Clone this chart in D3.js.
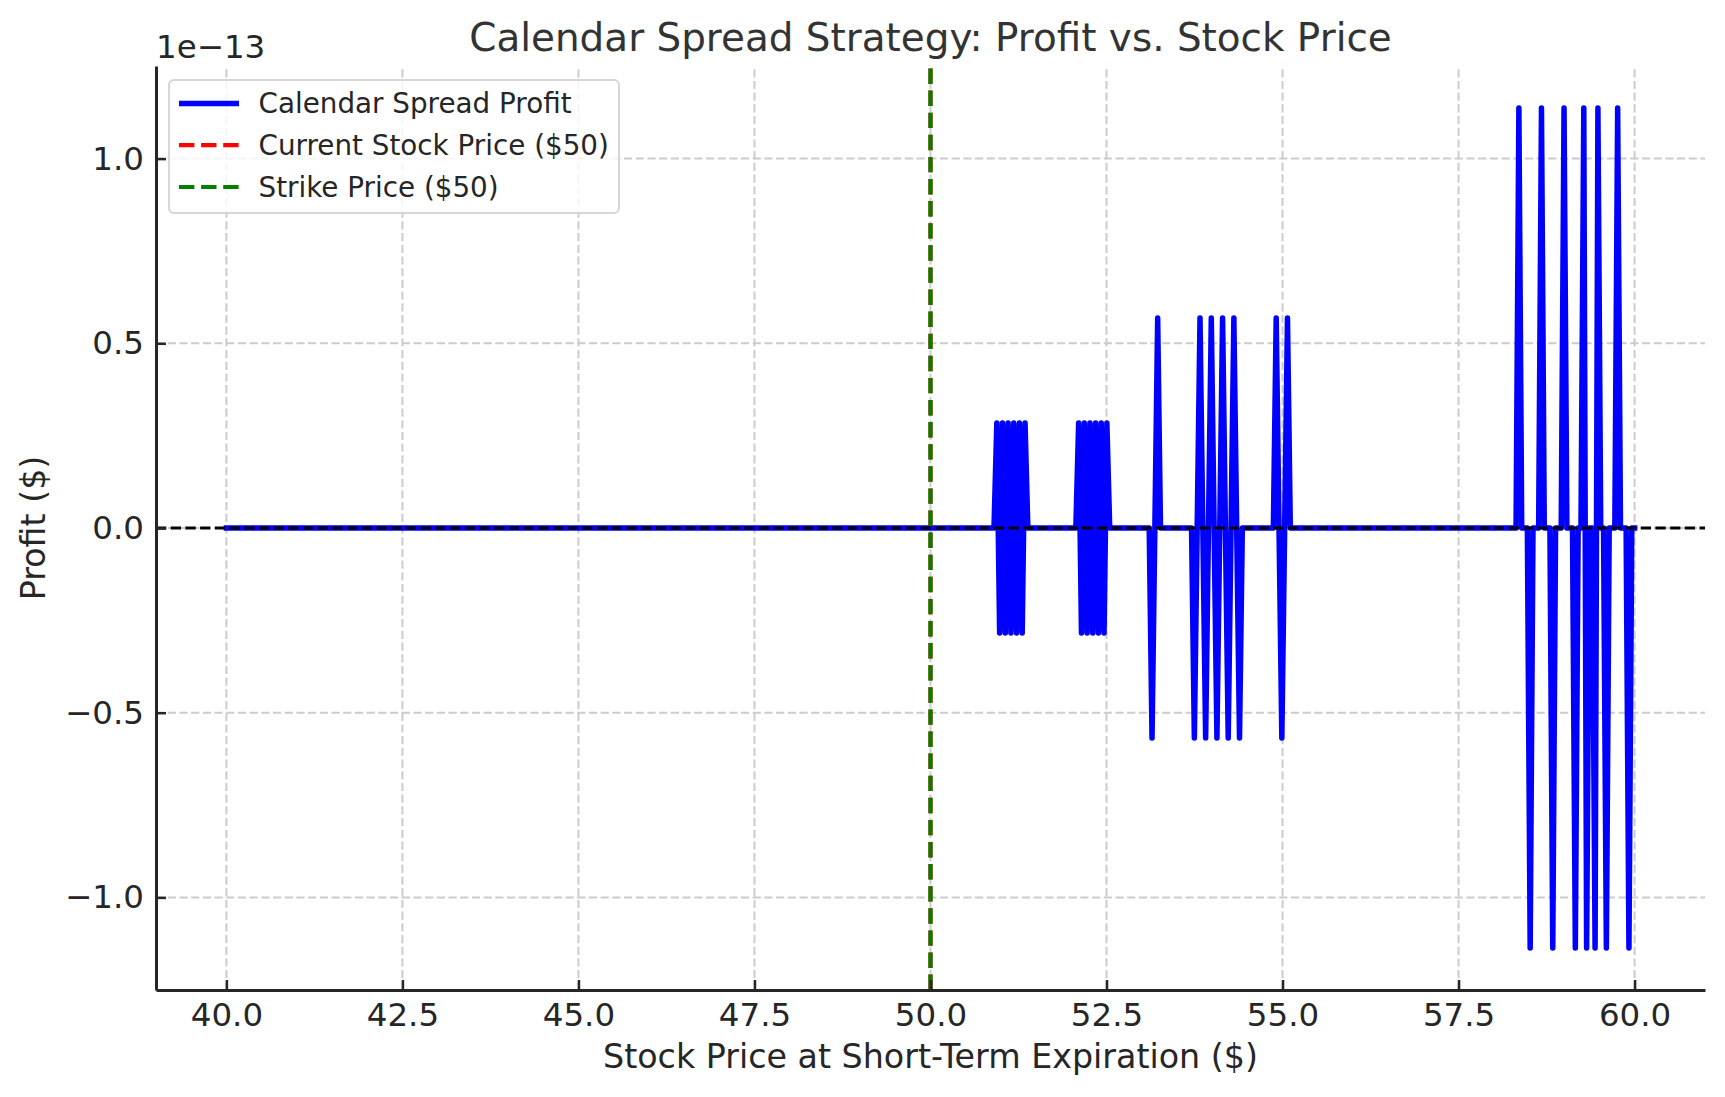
<!DOCTYPE html>
<html>
<head>
<meta charset="utf-8">
<script src="https://cdn.jsdelivr.net/npm/d3@7"></script>
<style>
    html, body { margin: 0; padding: 0; background: #fff; }
    svg { display: block; font-family: "DejaVu Sans", sans-serif; }
</style>
</head>
<body>
<div id="chart"></div>
<script>
// -----------------------------
// data
// -----------------------------

// vertices of the profit curve (flat zero between them), profit in $
const profitX = [
    40.0,
    50.9018, 50.9419, 50.9820, 51.0220, 51.0621, 51.1022, 51.1423, 51.1824, 51.2224, 51.2625, 51.3026, 51.3427, 51.3828,
    52.0641, 52.1042, 52.1443, 52.1844, 52.2244, 52.2645, 52.3046, 52.3447, 52.3848, 52.4248, 52.4649, 52.5050, 52.5451,
    53.1062, 53.1463, 53.1864, 53.2265, 53.2665,
    53.7074, 53.7475, 53.7876, 53.8277, 53.8677, 53.9078, 53.9479, 53.9880, 54.0281, 54.0681,
    54.1082, 54.1483, 54.1884, 54.2285, 54.2685, 54.3086, 54.3487, 54.3888, 54.4289,
    54.8697, 54.9098, 54.9499, 54.9900, 55.0301, 55.0701, 55.1102,
    58.3166, 58.3567, 58.3968, 58.4770, 58.5170, 58.5571, 58.6373, 58.6774, 58.7174,
    58.7976, 58.8377, 58.8778, 58.9579, 58.9980, 59.0381, 59.1182, 59.1583, 59.1984,
    59.2385, 59.2786, 59.3186, 59.3587, 59.3988, 59.4389, 59.4790, 59.5190,
    59.5591, 59.5992, 59.6393, 59.7194, 59.7595, 59.7996, 59.8798, 59.9198, 59.9599,
    60.0
]
const profitY = [
    0,
    0, 2.842e-14, -2.842e-14, 2.842e-14, -2.842e-14, 2.842e-14, -2.842e-14, 2.842e-14, -2.842e-14, 2.842e-14, -2.842e-14, 2.842e-14, 0,
    0, 2.842e-14, -2.842e-14, 2.842e-14, -2.842e-14, 2.842e-14, -2.842e-14, 2.842e-14, -2.842e-14, 2.842e-14, -2.842e-14, 2.842e-14, 0,
    0, -5.684e-14, 0, 5.684e-14, 0,
    0, -5.684e-14, 0, 5.684e-14, 0, -5.684e-14, 0, 5.684e-14, 0, -5.684e-14,
    0, 5.684e-14, 0, -5.684e-14, 0, 5.684e-14, 0, -5.684e-14, 0,
    0, 5.684e-14, 0, -5.684e-14, 0, 5.684e-14, 0,
    0, 1.137e-13, 0, 0, -1.137e-13, 0, 0, 1.137e-13, 0,
    0, -1.137e-13, 0, 0, 1.137e-13, 0, 0, -1.137e-13, 0,
    0, 1.137e-13, -1.137e-13, 0, 0, -1.137e-13, 1.137e-13, 0,
    0, -1.137e-13, 0, 0, 1.137e-13, 0, 0, -1.137e-13, 0,
    0
]

const currentPrice = 50
const strikePrice = 50

const xTicks = [40, 42.5, 45, 47.5, 50, 52.5, 55, 57.5, 60]
const xTickLabels = ['40.0', '42.5', '45.0', '47.5', '50.0', '52.5', '55.0', '57.5', '60.0']
const yTicks = [-1e-13, -0.5e-13, 0, 0.5e-13, 1e-13]
const yTickLabels = ['\u22121.0', '\u22120.5', '0.0', '0.5', '1.0']

const legendLabels = ['Calendar Spread Profit', 'Current Stock Price ($50)', 'Strike Price ($50)']

// -----------------------------
// layout
// -----------------------------

const W = 1725
const H = 1097
const plot = {left: 156, right: 1705, top: 66, bottom: 990}
const ink = '#262626'
const tickFont = 32.5

const svg = d3.select('#chart')
    .append('svg')
    .attr('width', W)
    .attr('height', H)
    .attr('viewBox', '0 0 ' + W + ' ' + H)

// scales, with matplotlib style 5% margins
const xExt = d3.extent(profitX)
const yExt = d3.extent(profitY)
const xPad = (xExt[1] - xExt[0]) * 0.05
const yPad = (yExt[1] - yExt[0]) * 0.05

const xScale = d3.scaleLinear()
    .domain([xExt[0] - xPad, xExt[1] + xPad])
    .range([plot.left, plot.right])

const yScale = d3.scaleLinear()
    .domain([yExt[0] - yPad, yExt[1] + yPad])
    .range([plot.bottom, plot.top])

// -----------------------------
// grid
// -----------------------------

const grid = svg.append('g').attr('class', 'grid')

grid.selectAll('line.gx')
    .data(xTicks)
    .enter()
    .append('line')
    .attr('x1', d => xScale(d))
    .attr('x2', d => xScale(d))
    .attr('y1', plot.bottom)
    .attr('y2', plot.top)

grid.selectAll('line.gy')
    .data(yTicks)
    .enter()
    .append('line')
    .attr('x1', plot.left)
    .attr('x2', plot.right)
    .attr('y1', d => yScale(d))
    .attr('y2', d => yScale(d))

grid.selectAll('line')
    .attr('stroke', '#cccccc')
    .attr('stroke-width', 2)
    .attr('stroke-dasharray', '8.2,3.5')

// -----------------------------
// lines
// -----------------------------

const pts = profitX.map((x, i) => ({x: x, y: profitY[i]}))

const line = d3.line()
    .x(d => xScale(d.x))
    .y(d => yScale(d.y))

svg.append('path')
    .datum(pts)
    .attr('d', line)
    .attr('fill', 'none')
    .attr('stroke', 'blue')
    .attr('stroke-width', 5.5)
    .attr('stroke-linejoin', 'round')
    .attr('stroke-linecap', 'square')

// vertical reference lines, drawn bottom to top
const vlines = [
    {x: currentPrice, colour: 'red'},
    {x: strikePrice, colour: 'green'}
]

svg.selectAll('line.vref')
    .data(vlines)
    .enter()
    .append('line')
    .attr('class', 'vref')
    .attr('x1', d => xScale(d.x))
    .attr('x2', d => xScale(d.x))
    .attr('y1', plot.bottom)
    .attr('y2', plot.top)
    .attr('stroke', d => d.colour)
    .attr('stroke-width', 4.2)
    .attr('stroke-dasharray', '15.4,6.7')

// zero line
svg.append('line')
    .attr('x1', plot.left)
    .attr('x2', plot.right)
    .attr('y1', yScale(0))
    .attr('y2', yScale(0))
    .attr('stroke', 'black')
    .attr('stroke-width', 2.8)
    .attr('stroke-dasharray', '10.3,4.4')

// -----------------------------
// axes
// -----------------------------

const xAxis = d3.axisBottom(xScale)
    .tickValues(xTicks)
    .tickFormat((d, i) => xTickLabels[i])
    .tickSizeInner(-10)
    .tickSizeOuter(0)
    .tickPadding(13)

const yAxis = d3.axisLeft(yScale)
    .tickValues(yTicks)
    .tickFormat((d, i) => yTickLabels[i])
    .tickSizeInner(-10)
    .tickSizeOuter(0)
    .tickPadding(12)

const gx = svg.append('g')
    .attr('transform', 'translate(0,' + plot.bottom + ')')
    .call(xAxis)

const gy = svg.append('g')
    .attr('transform', 'translate(' + plot.left + ',0)')
    .call(yAxis)

for (const g of [gx, gy]) {
    g.select('.domain')
        .attr('stroke', ink)
        .attr('stroke-width', 3)
    g.selectAll('.tick line')
        .attr('stroke', ink)
        .attr('stroke-width', 2.5)
    g.selectAll('.tick text')
        .attr('fill', ink)
        .attr('font-size', tickFont)
        .attr('font-family', '"DejaVu Sans", sans-serif')
}

// y offset text
svg.append('text')
    .attr('x', plot.left)
    .attr('y', 58)
    .attr('font-size', tickFont)
    .attr('fill', ink)
    .text('1e\u221213')

// -----------------------------
// labels
// -----------------------------

svg.append('text')
    .attr('x', (plot.left + plot.right) / 2)
    .attr('y', 51)
    .attr('text-anchor', 'middle')
    .attr('font-size', 38.9)
    .attr('fill', '#333333')
    .text('Calendar Spread Strategy: Profit vs. Stock Price')

svg.append('text')
    .attr('x', (plot.left + plot.right) / 2)
    .attr('y', 1068)
    .attr('text-anchor', 'middle')
    .attr('font-size', 33.3)
    .attr('fill', ink)
    .text('Stock Price at Short-Term Expiration ($)')

svg.append('text')
    .attr('transform', 'translate(45,' + (plot.top + plot.bottom) / 2 + ') rotate(-90)')
    .attr('text-anchor', 'middle')
    .attr('font-size', 33.3)
    .attr('fill', ink)
    .text('Profit ($)')

// -----------------------------
// legend
// -----------------------------

const legend = svg.append('g')
    .attr('transform', 'translate(169,80)')

legend.append('rect')
    .attr('width', 450)
    .attr('height', 133)
    .attr('rx', 5)
    .attr('fill', 'white')
    .attr('fill-opacity', 0.8)
    .attr('stroke', '#d6d6d6')
    .attr('stroke-width', 2)

const legendStyles = [
    {colour: 'blue', width: 5.5, dash: null},
    {colour: 'red', width: 4.2, dash: '15.4,6.7'},
    {colour: 'green', width: 4.2, dash: '15.4,6.7'}
]

const rows = legend.selectAll('g.row')
    .data(legendLabels)
    .enter()
    .append('g')
    .attr('class', 'row')
    .attr('transform', (d, i) => 'translate(0,' + (23.4 + i * 41.8) + ')')

rows.append('line')
    .attr('x1', 10)
    .attr('x2', 70)
    .attr('stroke', (d, i) => legendStyles[i].colour)
    .attr('stroke-width', (d, i) => legendStyles[i].width)
    .attr('stroke-dasharray', (d, i) => legendStyles[i].dash)

rows.append('text')
    .attr('x', 89.5)
    .attr('y', 10)
    .attr('font-size', 27.8)
    .attr('fill', ink)
    .text(d => d)
</script>
</body>
</html>
